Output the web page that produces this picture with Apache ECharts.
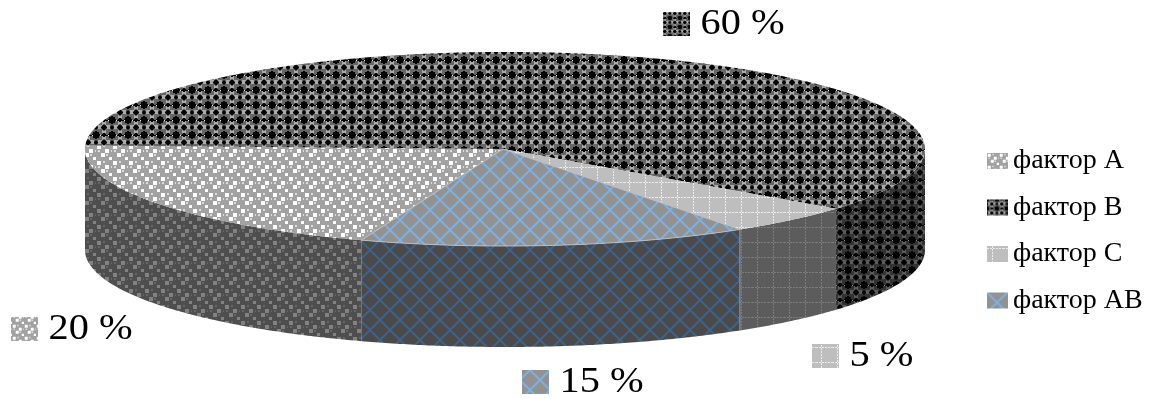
<!DOCTYPE html>
<html>
<head>
<meta charset="utf-8">
<style>html,body{margin:0;padding:0;background:#fff}#chart{width:1158px;height:399px}</style>
<script src="https://cdn.jsdelivr.net/npm/echarts@6/dist/echarts.min.js"></script>
</head>
<body>
<div id="chart"></div>
<script>
// Factor shares, percent
const categories = ['фактор A', 'фактор B', 'фактор C', 'фактор AB'];
const shares = [20, 60, 5, 15];

// Pie geometry: a tilted disc drawn as an ellipse with a vertical rim
const disc = { cx: 505, cy: 149, apexX: 503, rx: 420, ry: 97, depth: 101, firstAngle: 110 };
const FONT = '"Liberation Serif", "Times New Roman", serif';

// Where each factor's key and percent caption sit
const captions = [
  { x: 11, y: 317 },
  { x: 663, y: 12 },
  { x: 812, y: 344 },
  { x: 522, y: 370 }
];

function tile(w, h, s, paint) {
  const c = document.createElement('canvas');
  c.width = Math.round(w * s);
  c.height = Math.round(h * s);
  const g = c.getContext('2d');
  g.scale(s, s);
  paint(g);
  return { image: c, repeat: 'repeat' };
}

function confetti(bg, hi, mid, s) {
  return tile(16, 16, s, g => {
    g.fillStyle = bg; g.fillRect(0, 0, 16, 16);
    g.fillStyle = mid;
    [[7, 1], [2, 6], [10, 10], [15, 6]].forEach(p => g.fillRect(p[0], p[1], 2, 2));
    g.fillStyle = hi;
    [[1, 1], [9, 5], [5, 9], [13, 13]].forEach(p => g.fillRect(p[0], p[1], 4, 4));
  });
}

function stars(bg, light, dark, spark, s) {
  return tile(16, 15, s, g => {
    g.fillStyle = bg; g.fillRect(0, 0, 16, 15);
    g.fillStyle = light;
    [[8, 3], [4, 7], [12, 7], [8, 11]].forEach(p => g.fillRect(p[0] - 2, p[1] - 2, 4, 4));
    g.fillStyle = dark;
    const plus = (x, y, r) => {
      g.fillRect(x - r, y - 1, 2 * r, 2);
      g.fillRect(x - 1, y - r, 2, 2 * r);
      g.fillRect(x - r + 1, y - r + 1, 2 * r - 2, 2 * r - 2);
    };
    [[0, 0], [16, 0], [0, 15], [16, 15], [0, 7.5], [16, 7.5], [8, 0], [8, 15]].forEach((p, i) => plus(p[0], p[1], i < 4 ? 4 : 2));
    plus(8, 7.5, 3);
    g.fillRect(0, 0, 16, 1);
    g.fillStyle = spark;
    g.fillRect(4, 0, 1, 1);
    g.fillRect(12, 0, 1, 1);
  });
}

function dottedGrid(bg, dot, s) {
  return tile(16, 15, s, g => {
    g.fillStyle = bg; g.fillRect(0, 0, 16, 15);
    g.fillStyle = dot;
    for (let x = 0; x < 16; x += 3) g.fillRect(x, 2, 2, 1);
    for (let y = 0; y < 15; y += 3) g.fillRect(5, y, 1, 2);
  });
}

function lattice(bg, line, s) {
  return tile(20, 20, s, g => {
    g.fillStyle = bg; g.fillRect(0, 0, 20, 20);
    g.strokeStyle = line; g.lineWidth = 2;
    g.beginPath();
    g.moveTo(-5, -5); g.lineTo(25, 25);
    g.moveTo(-5, 25); g.lineTo(25, -5);
    g.moveTo(5, -5); g.lineTo(-5, 5);
    g.moveTo(25, 15); g.lineTo(15, 25);
    g.moveTo(15, -5); g.lineTo(25, 5);
    g.moveTo(-5, 15); g.lineTo(5, 25);
    g.stroke();
  });
}

const fills = [
  { top: confetti('#a2a2a2', '#ffffff', '#dddddd', 1), side: confetti('#4e4e4e', '#828282', '#666666', 1), key: confetti('#a2a2a2', '#ffffff', '#dddddd', 0.75) },
  { top: stars('#666666', '#ababab', '#050505', '#f0f0f0', 1), side: stars('#333333', '#5a5a5a', '#030303', '#8a8a8a', 1), key: stars('#666666', '#ababab', '#050505', '#f0f0f0', 0.6) },
  { top: dottedGrid('#bebebe', '#ececec', 1), side: dottedGrid('#5c5c5c', '#7c7c7c', 1), key: dottedGrid('#bebebe', '#ececec', 1) },
  { top: lattice('#929292', '#7fb0de', 1), side: lattice('#4a4a4a', '#3f6288', 1), key: lattice('#929292', '#7fb0de', 1), edge: '#bdbdbd', seam: '#8b98a3' }
];

const rad = d => d * Math.PI / 180;
const rim = (deg, drop) => [
  disc.cx + disc.rx * Math.cos(rad(deg)),
  disc.cy + disc.ry * Math.sin(rad(deg)) + drop
];

function arc(from, to, drop) {
  const pts = [];
  const n = Math.max(2, Math.ceil(Math.abs(to - from) * 2));
  for (let i = 0; i <= n; i++) pts.push(rim(from + (to - from) * i / n, drop));
  return pts;
}

function renderSlice(idx) {
  return function (params, api) {
    const value = api.value(0);
    const before = api.value(1);
    const total = shares.reduce((a, b) => a + b, 0);
    const from = disc.firstAngle + before / total * 360;
    const to = from + value / total * 360;
    const look = fills[idx];
    const children = [];

    // Rim facing the viewer: only the lower half of the ellipse shows it
    [[0, 180], [360, 540]].forEach(win => {
      const a = Math.max(from, win[0]);
      const b = Math.min(to, win[1]);
      if (b > a) {
        children.push({
          type: 'polygon',
          shape: { points: arc(a, b, 0).concat(arc(b, a, disc.depth)) },
          style: { fill: look.side }
        });
      }
    });
    if (look.seam) {
      const p = rim(from, 0);
      const q = rim(from, disc.depth);
      children.push({
        type: 'line',
        shape: { x1: p[0], y1: p[1], x2: q[0], y2: q[1] },
        style: { stroke: look.seam, lineWidth: 1 }
      });
    }

    children.push({
      type: 'polygon',
      shape: { points: [[disc.apexX, disc.cy]].concat(arc(from, to, 0)) },
      style: look.edge ? { fill: look.top, stroke: look.edge, lineWidth: 1 } : { fill: look.top }
    });

    const spot = captions[idx];
    children.push({
      type: 'rect',
      shape: { x: spot.x, y: spot.y, width: 27, height: 24 },
      style: { fill: look.key }
    });
    children.push({
      type: 'text',
      x: spot.x + 37.5,
      y: spot.y + 12.5,
      scaleX: 1.12,
      style: {
        text: value + ' %',
        fontFamily: FONT,
        fontSize: 36,
        fill: '#000',
        verticalAlign: 'middle',
        align: 'left'
      }
    });
    return { type: 'group', children: children };
  };
}

let running = 0;
const series = categories.map((name, i) => {
  const row = [shares[i], running];
  running += shares[i];
  return {
    type: 'custom',
    name: name,
    coordinateSystem: 'none',
    silent: true,
    animation: false,
    itemStyle: { color: fills[i].key },
    renderItem: renderSlice(i),
    data: [row]
  };
});

const chart = echarts.init(document.getElementById('chart'), null, { renderer: 'canvas' });
chart.setOption({
  animation: false,
  backgroundColor: '#fff',
  legend: {
    orient: 'vertical',
    left: 987,
    top: 147,
    padding: 0,
    itemWidth: 21,
    itemHeight: 16,
    itemGap: 18.5,
    selectedMode: false,
    icon: 'rect',
    textStyle: { fontFamily: FONT, fontSize: 28, color: '#000' },
    data: categories.map((name, i) => ({ name: name, itemStyle: { color: fills[i].key } }))
  },
  series: series
});
</script>
</body>
</html>
